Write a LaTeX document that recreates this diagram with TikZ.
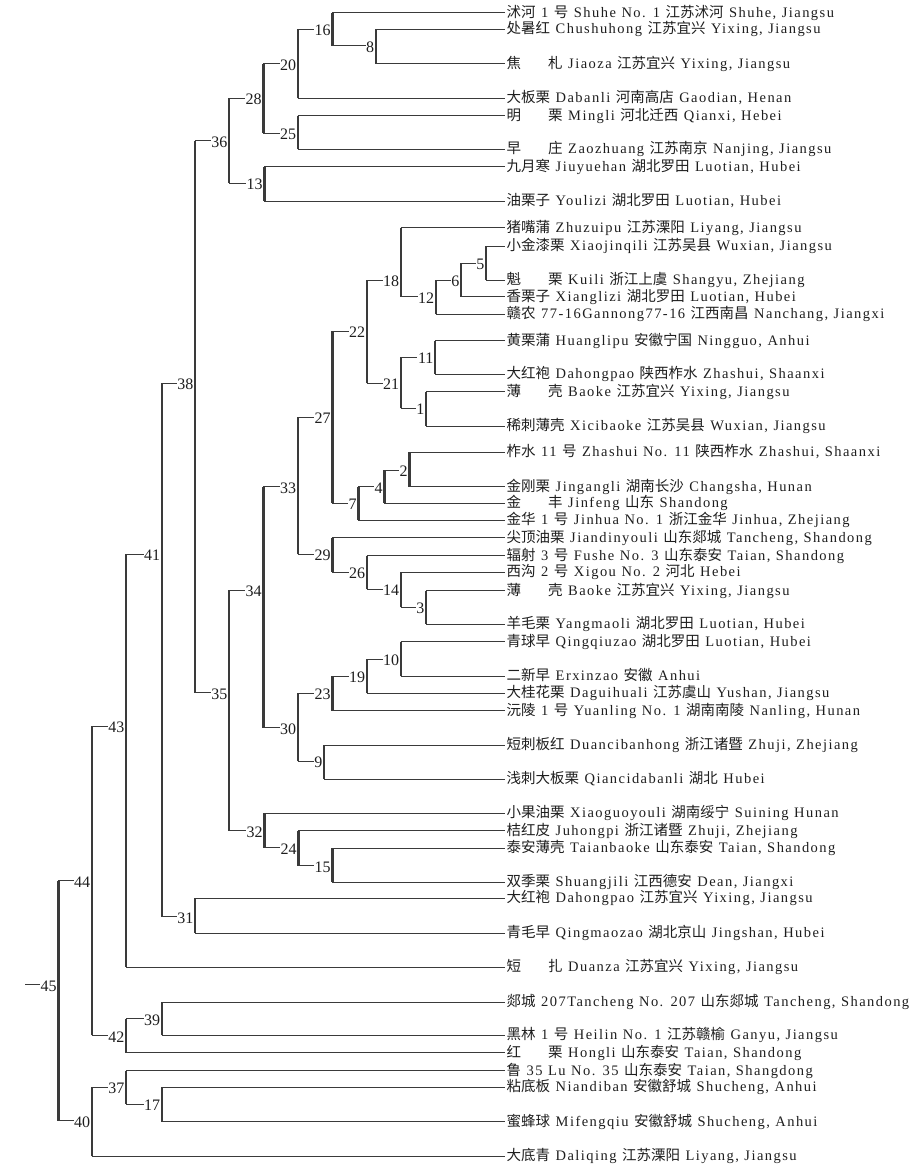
\documentclass[tikz,border=0pt]{standalone}
\usepackage{fontspec}
\setmainfont{Liberation Serif}
\newfontfamily\lsfont{Liberation Serif}[LetterSpace=10]
\newfontfamily\cjk{Noto Sans CJK SC}
\newcommand\C[1]{{\cjk #1}}
\newcommand\G{\hspace{27pt}}
\newcommand\leaffont{\fontsize{14.5}{15}\lsfont\spaceskip=5.5pt plus 1pt\relax}
\definecolor{ln}{HTML}{3A3A3A}
\definecolor{tx}{HTML}{1E1E1E}
\tikzset{
  hline/.style={line width=1pt, draw=ln},
  vline/.style={line width=2.4pt, draw=ln},
  leaf/.style={anchor=west, inner sep=1.5pt, text=tx, font=\leaffont, text height=11.5pt, text depth=2.5pt},
  lab/.style={anchor=east, inner sep=0.5pt, fill=white, text=tx, font=\fontsize{16}{16}\selectfont, text height=10.8pt, text depth=0pt},
}
\begin{document}
\begin{tikzpicture}[x=1pt,y=-1pt]
\useasboundingbox (0,0) rectangle (913,1172);
% leaves
\node[leaf] (t1) at (505,12.7) {\C{沭河} 1 \C{号} Shuhe No. 1 \C{江苏沭河} Shuhe, Jiangsu};
\node[leaf] (t2) at (505,29.3) {\C{处暑红} Chushuhong \C{江苏宜兴} Yixing, Jiangsu};
\node[leaf] (t3) at (505,64) {\C{焦}\G\C{札} Jiaoza \C{江苏宜兴} Yixing, Jiangsu};
\node[leaf] (t4) at (505,98.3) {\C{大板栗} Dabanli \C{河南高店} Gaodian, Henan};
\node[leaf] (t5) at (505,115.7) {\C{明}\G\C{栗} Mingli \C{河北迁西} Qianxi, Hebei};
\node[leaf] (t6) at (505,149.3) {\C{早}\G\C{庄} Zaozhuang \C{江苏南京} Nanjing, Jiangsu};
\node[leaf] (t7) at (505,166.7) {\C{九月寒} Jiuyuehan \C{湖北罗田} Luotian, Hubei};
\node[leaf] (t8) at (505,201) {\C{油栗子} Youlizi \C{湖北罗田} Luotian, Hubei};
\node[leaf] (t9) at (505,227.7) {\C{猪嘴蒲} Zhuzuipu \C{江苏溧阳} Liyang, Jiangsu};
\node[leaf] (t10) at (505,246) {\C{小金漆栗} Xiaojinqili \C{江苏吴县} Wuxian, Jiangsu};
\node[leaf] (t11) at (505,280) {\C{魁}\G\C{栗} Kuili \C{浙江上虞} Shangyu, Zhejiang};
\node[leaf] (t12) at (505,296.7) {\C{香栗子} Xianglizi \C{湖北罗田} Luotian, Hubei};
\node[leaf] (t13) at (505,314) {\C{赣农} 77-16Gannong77-16 \C{江西南昌} Nanchang, Jiangxi};
\node[leaf] (t14) at (505,340.7) {\C{黄栗蒲} Huanglipu \C{安徽宁国} Ningguo, Anhui};
\node[leaf] (t15) at (505,374) {\C{大红袍} Dahongpao \C{陕西柞水} Zhashui, Shaanxi};
\node[leaf] (t16) at (505,391.7) {\C{薄}\G\C{壳} Baoke \C{江苏宜兴} Yixing, Jiangsu};
\node[leaf] (t17) at (505,426) {\C{稀刺薄壳} Xicibaoke \C{江苏吴县} Wuxian, Jiangsu};
\node[leaf] (t18) at (505,452.3) {\C{柞水} 11 \C{号} Zhashui No. 11 \C{陕西柞水} Zhashui, Shaanxi};
\node[leaf] (t19) at (505,486.7) {\C{金刚栗} Jingangli \C{湖南长沙} Changsha, Hunan};
\node[leaf] (t20) at (505,503.3) {\C{金}\G\C{丰} Jinfeng \C{山东} Shandong};
\node[leaf] (t21) at (505,520) {\C{金华} 1 \C{号} Jinhua No. 1 \C{浙江金华} Jinhua, Zhejiang};
\node[leaf] (t22) at (505,537.7) {\C{尖顶油栗} Jiandinyouli \C{山东郯城} Tancheng, Shandong};
\node[leaf] (t23) at (505,555.7) {\C{辐射} 3 \C{号} Fushe No. 3 \C{山东泰安} Taian, Shandong};
\node[leaf] (t24) at (505,572.3) {\C{西沟} 2 \C{号} Xigou No. 2 \C{河北} Hebei};
\node[leaf] (t25) at (505,590.7) {\C{薄}\G\C{壳} Baoke \C{江苏宜兴} Yixing, Jiangsu};
\node[leaf] (t26) at (505,624.3) {\C{羊毛栗} Yangmaoli \C{湖北罗田} Luotian, Hubei};
\node[leaf] (t27) at (505,641.7) {\C{青球早} Qingqiuzao \C{湖北罗田} Luotian, Hubei};
\node[leaf] (t28) at (505,676) {\C{二新早} Erxinzao \C{安徽} Anhui};
\node[leaf] (t29) at (505,693.3) {\C{大桂花栗} Daguihuali \C{江苏虞山} Yushan, Jiangsu};
\node[leaf] (t30) at (505,710.7) {\C{沅陵} 1 \C{号} Yuanling No. 1 \C{湖南南陵} Nanling, Hunan};
\node[leaf] (t31) at (505,745) {\C{短刺板红} Duancibanhong \C{浙江诸暨} Zhuji, Zhejiang};
\node[leaf] (t32) at (505,779.3) {\C{浅刺大板栗} Qiancidabanli \C{湖北} Hubei};
\node[leaf] (t33) at (505,813.3) {\C{小果油栗} Xiaoguoyouli \C{湖南绥宁} Suining Hunan};
\node[leaf] (t34) at (505,830.7) {\C{桔红皮} Juhongpi \C{浙江诸暨} Zhuji, Zhejiang};
\node[leaf] (t35) at (505,848.3) {\C{泰安薄壳} Taianbaoke \C{山东泰安} Taian, Shandong};
\node[leaf] (t36) at (505,882.3) {\C{双季栗} Shuangjili \C{江西德安} Dean, Jiangxi};
\node[leaf] (t37) at (505,898.3) {\C{大红袍} Dahongpao \C{江苏宜兴} Yixing, Jiangsu};
\node[leaf] (t38) at (505,933.3) {\C{青毛早} Qingmaozao \C{湖北京山} Jingshan, Hubei};
\node[leaf] (t39) at (505,967.3) {\C{短}\G\C{扎} Duanza \C{江苏宜兴} Yixing, Jiangsu};
\node[leaf] (t40) at (505,1002) {\C{郯城} 207Tancheng No. 207 \C{山东郯城} Tancheng, Shandong};
\node[leaf] (t41) at (505,1035.4) {\C{黑林} 1 \C{号} Heilin No. 1 \C{江苏赣榆} Ganyu, Jiangsu};
\node[leaf] (t42) at (505,1052.8) {\C{红}\G\C{栗} Hongli \C{山东泰安} Taian, Shandong};
\node[leaf] (t43) at (505,1070.7) {\C{鲁} 35 Lu No. 35 \C{山东泰安} Taian, Shangdong};
\node[leaf] (t44) at (505,1087.3) {\C{粘底板} Niandiban \C{安徽舒城} Shucheng, Anhui};
\node[leaf] (t45) at (505,1121.8) {\C{蜜蜂球} Mifengqiu \C{安徽舒城} Shucheng, Anhui};
\node[leaf] (t46) at (505,1156) {\C{大底青} Daliqing \C{江苏溧阳} Liyang, Jiangsu};
% internal cluster points
\foreach \n/\x/\y in {16/332.3/29.3, 8/375.7/46, 20/297.7/64, 25/297.7/133.3, 28/263.3/98.3,
  13/264.3/183.3, 36/229/140.7, 5/486/263.3, 6/461/280, 12/435.7/296.7, 18/400.7/280,
  11/435/357.3, 1/426/408.3, 21/400.7/383.3, 22/366.7/331, 2/409.3/470, 4/384.3/486.7,
  7/358.3/503.3, 27/332.3/417, 3/426/607.3, 14/400.7/589.3, 26/366.7/572.3, 29/332.3/554.3,
  33/297.7/486.7, 10/400.7/659.3, 19/366.7/676, 23/332.3/693.3, 9/324/761, 30/297.7/727.7,
  34/263.3/590, 15/332.3/865.7, 24/298.3/847.7, 32/264.3/830.7, 35/229/692.7, 38/195/383.3,
  31/195/916.7, 41/161.7/554, 43/126/726, 39/161.7/1018.8, 42/126/1035.4, 44/91.7/880.8,
  17/161.7/1104, 37/126/1087.3, 40/91.7/1120.6, 45/58.3/984.7}
  {\coordinate (n\n) at (\x,\y);}
\coordinate (root) at (25,984.7);
% connectors
\foreach \p/\a/\b in {16/t1.west/n8, 8/t2.west/t3.west, 20/n16/t4.west, 25/t5.west/t6.west,
  28/n20/n25, 13/t7.west/t8.west, 36/n28/n13, 5/t10.west/t11.west, 6/n5/t12.west,
  12/n6/t13.west, 18/t9.west/n12, 11/t14.west/t15.west, 1/t16.west/t17.west, 21/n11/n1,
  22/n18/n21, 2/t18.west/t19.west, 4/n2/t20.west, 7/n4/t21.west, 27/n22/n7,
  3/t25.west/t26.west, 14/t24.west/n3, 26/t23.west/n14, 29/t22.west/n26, 33/n27/n29,
  10/t27.west/t28.west, 19/n10/t29.west, 23/n19/t30.west, 9/t31.west/t32.west, 30/n23/n9,
  34/n33/n30, 15/t35.west/t36.west, 24/t34.west/n15, 32/t33.west/n24, 35/n34/n32,
  38/n36/n35, 31/t37.west/t38.west, 41/n38/n31, 43/n41/t39.west, 39/t40.west/t41.west,
  42/n39/t42.west, 44/n43/n42, 17/t44.west/t45.west, 37/t43.west/n17, 40/n37/t46.west,
  45/n44/n40}
  {\draw[hline] (n\p |- \a) -- (\a);
   \draw[hline] (n\p |- \b) -- (\b);
   \draw[vline] (n\p |- \a) -- (n\p |- \b);}
\draw[hline] (root) -- (n45);
% cluster labels
\foreach \n in {1,...,45}
  {\node[lab] (l\n) at ([xshift=-0.9pt,yshift=-1.2pt]n\n) {\n};}
\end{tikzpicture}
\end{document}
